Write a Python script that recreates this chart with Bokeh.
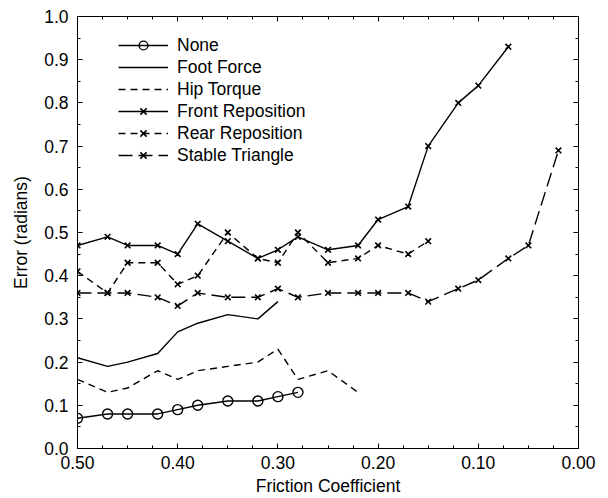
from bokeh.plotting import figure
from bokeh.models import (Range1d, FixedTicker, PrintfTickFormatter, LinearAxis,
                          Legend, LegendItem, CustomLabelingPolicy)
from bokeh.embed import file_html
from bokeh.resources import INLINE

# ---- data ----
x_none = [0.50, 0.47, 0.45, 0.42, 0.40, 0.38, 0.35, 0.32, 0.30, 0.28]
none_err = [0.07, 0.08, 0.08, 0.08, 0.09, 0.10, 0.11, 0.11, 0.12, 0.13]

x_foot = [0.50, 0.47, 0.45, 0.42, 0.40, 0.38, 0.35, 0.32, 0.30]
foot_err = [0.21, 0.19, 0.20, 0.22, 0.27, 0.29, 0.31, 0.30, 0.34]

x_hip = [0.50, 0.47, 0.45, 0.42, 0.40, 0.38, 0.35, 0.32, 0.30, 0.28, 0.25, 0.22]
hip_err = [0.16, 0.13, 0.14, 0.18, 0.16, 0.18, 0.19, 0.20, 0.23, 0.16, 0.18, 0.13]

x_front = [0.50, 0.47, 0.45, 0.42, 0.40, 0.38, 0.35, 0.32, 0.30, 0.28, 0.25, 0.22,
           0.20, 0.17, 0.15, 0.12, 0.10, 0.07]
front_err = [0.47, 0.49, 0.47, 0.47, 0.45, 0.52, 0.48, 0.44, 0.46, 0.49, 0.46, 0.47,
             0.53, 0.56, 0.70, 0.80, 0.84, 0.93]

x_rear = [0.50, 0.47, 0.45, 0.42, 0.40, 0.38, 0.35, 0.32, 0.30, 0.28, 0.25, 0.22,
          0.20, 0.17, 0.15]
rear_err = [0.41, 0.36, 0.43, 0.43, 0.38, 0.40, 0.50, 0.44, 0.43, 0.50, 0.43, 0.44,
            0.47, 0.45, 0.48]

x_stable = [0.50, 0.47, 0.45, 0.42, 0.40, 0.38, 0.35, 0.32, 0.30, 0.28, 0.25, 0.22,
            0.20, 0.17, 0.15, 0.12, 0.10, 0.07, 0.05, 0.02]
stable_err = [0.36, 0.36, 0.36, 0.35, 0.33, 0.36, 0.35, 0.35, 0.37, 0.35, 0.36, 0.36,
              0.36, 0.36, 0.34, 0.37, 0.39, 0.44, 0.47, 0.69]

x_major = [0.0, 0.1, 0.2, 0.3, 0.4, 0.5]
x_minor = [i * 0.025 for i in range(21)]
y_major = [i / 10 for i in range(11)]
y_minor = [i * 0.05 for i in range(21)]

FONT = "Liberation Sans"
FS = "17.5px"
LW = 1.4

p = figure(frame_width=501, frame_height=432, output_backend="svg",
           toolbar_location=None,
           x_range=Range1d(0.5, 0.0), y_range=Range1d(0.0, 1.0),
           min_border_left=77, min_border_right=14, min_border_top=15,
           min_border_bottom=43, x_axis_label="Friction Coefficient",
           y_axis_label="Error (radians)")
p.grid.visible = False
p.outline_line_color = "black"
p.outline_line_width = 1
p.background_fill_color = "white"
p.border_fill_color = "white"

xt = FixedTicker(ticks=x_major, minor_ticks=x_minor)
yt = FixedTicker(ticks=y_major, minor_ticks=y_minor)

def style_axis(ax, ticker, fmt):
    ax.ticker = ticker
    ax.formatter = PrintfTickFormatter(format=fmt)
    ax.major_tick_in = 5
    ax.major_tick_out = 0
    ax.minor_tick_in = 3
    ax.minor_tick_out = 0
    ax.axis_line_color = "black"
    ax.major_tick_line_color = "black"
    ax.minor_tick_line_color = "black"
    ax.major_label_text_font = FONT
    ax.major_label_text_font_size = FS
    ax.major_label_text_color = "black"
    ax.axis_label_text_font = FONT
    ax.axis_label_text_font_size = FS
    ax.axis_label_text_font_style = "normal"
    ax.axis_label_text_color = "black"

style_axis(p.xaxis[0], xt, "%.2f")
style_axis(p.yaxis[0], yt, "%.1f")
p.xaxis[0].major_label_standoff = 7
p.xaxis[0].axis_label_standoff = 4
p.yaxis[0].major_label_standoff = 9
p.yaxis[0].axis_label_standoff = 10

hide_all = CustomLabelingPolicy(code="return new Set()")

top_ax = LinearAxis()
style_axis(top_ax, xt, "%.2f")
top_ax.major_label_policy = hide_all
top_ax.major_label_standoff = 0
p.add_layout(top_ax, "above")
right_ax = LinearAxis()
style_axis(right_ax, yt, "%.1f")
right_ax.major_label_policy = CustomLabelingPolicy(code="return new Set()")
right_ax.major_label_standoff = 0
p.add_layout(right_ax, "right")

# ---- series ----
r_none_l = p.line(x_none, none_err, line_color="black", line_width=LW)
r_none_m = p.scatter(x_none, none_err, marker="circle", size=10, fill_color=None,
                     line_color="black", line_width=LW)

r_foot = p.line(x_foot, foot_err, line_color="black", line_width=LW)
r_hip = p.line(x_hip, hip_err, line_color="black", line_width=LW, line_dash="7 5")

r_front_l = p.line(x_front, front_err, line_color="black", line_width=LW)
r_front_m = p.scatter(x_front, front_err, marker="x", size=8, line_color="black",
                      line_width=1.6)

r_rear_l = p.line(x_rear, rear_err, line_color="black", line_width=LW, line_dash="7 5")
r_rear_m = p.scatter(x_rear, rear_err, marker="x", size=8, line_color="black",
                     line_width=1.6)

r_stab_l = p.line(x_stable, stable_err, line_color="black", line_width=LW,
                  line_dash="14 6")
r_stab_m = p.scatter(x_stable, stable_err, marker="x", size=8, line_color="black",
                     line_width=1.6)

legend = Legend(items=[
    LegendItem(label="None", renderers=[r_none_l, r_none_m]),
    LegendItem(label="Foot Force", renderers=[r_foot]),
    LegendItem(label="Hip Torque", renderers=[r_hip]),
    LegendItem(label="Front Reposition", renderers=[r_front_l, r_front_m]),
    LegendItem(label="Rear Reposition", renderers=[r_rear_l, r_rear_m]),
    LegendItem(label="Stable Triangle", renderers=[r_stab_l, r_stab_m]),
], location=(41, 282))
legend.border_line_color = None
legend.background_fill_alpha = 0
legend.padding = 0
legend.margin = 0
legend.spacing = 0
legend.glyph_width = 50
legend.glyph_height = 22
legend.label_height = 22
legend.label_standoff = 9
legend.label_text_font = FONT
legend.label_text_font_size = FS
legend.label_text_color = "black"
p.add_layout(legend, "center")

open("out.html", "w").write(file_html(p, INLINE))
